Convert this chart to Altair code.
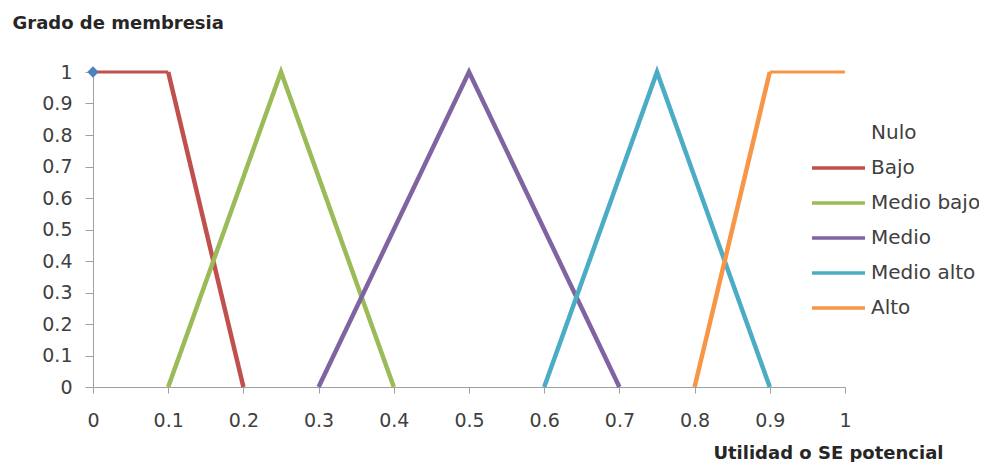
import altair as alt
import pandas as pd

series = ["Nulo", "Bajo", "Medio bajo", "Medio", "Medio alto", "Alto"]
colors = ["transparent", "#C0504D", "#9BBB59", "#8064A2", "#4BACC6", "#F79646"]

nulo_x = [0.0]
nulo_y = [1.0]
bajo_x = [0.0, 0.1, 0.2]
bajo_y = [1.0, 1.0, 0.0]
mbajo_x = [0.1, 0.25, 0.4]
mbajo_y = [0.0, 1.0, 0.0]
medio_x = [0.3, 0.5, 0.7]
medio_y = [0.0, 1.0, 0.0]
malto_x = [0.6, 0.75, 0.9]
malto_y = [0.0, 1.0, 0.0]
alto_x = [0.8, 0.9, 1.0]
alto_y = [0.0, 1.0, 1.0]

x_ticks = [0, 0.1, 0.2, 0.3, 0.4, 0.5, 0.6, 0.7, 0.8, 0.9, 1]
y_ticks = [0, 0.1, 0.2, 0.3, 0.4, 0.5, 0.6, 0.7, 0.8, 0.9, 1]

# split each series into flat / sloped segments (flat ones look thinner in the reference)
rows = []
for name, xs, ys in [("Nulo", nulo_x, nulo_y), ("Bajo", bajo_x, bajo_y),
                     ("Medio bajo", mbajo_x, mbajo_y), ("Medio", medio_x, medio_y),
                     ("Medio alto", malto_x, malto_y), ("Alto", alto_x, alto_y)]:
    if len(xs) == 1:
        rows.append({"serie": name, "x": xs[0], "y": ys[0], "seg": name + "-0", "w": 4.5, "i": 0})
        continue
    k = 0
    while k < len(xs) - 1:
        flat = ys[k] == ys[k + 1]
        j = k + 1
        while j < len(xs) - 1 and (ys[j] == ys[j + 1]) == flat:
            j += 1
        seg = f"{name}-{k}"
        for idx in range(k, j + 1):
            rows.append({"serie": name, "x": xs[idx], "y": ys[idx], "seg": seg,
                         "w": 3.0 if flat else 4.5, "i": idx})
        k = j
df = pd.DataFrame(rows)

FONT = "DejaVu Sans"

xenc = alt.X("x:Q", scale=alt.Scale(domain=[0, 1], nice=False),
             axis=alt.Axis(values=x_ticks, format="~g", title="Utilidad o SE potencial",
                           grid=False, labelPadding=18, tickSize=6, labelOverlap=False,
                           labelFlush=False,
                           titleAnchor="start", titleAlign="right", titleX=850, titleY=66,
                           titleBaseline="middle", titleFontWeight="bold"))
yenc = alt.Y("y:Q", scale=alt.Scale(domain=[0, 1], nice=False),
             axis=alt.Axis(values=y_ticks, format="~g", title="Grado de membresia",
                           grid=False, tickSize=8, labelPadding=13, labelOverlap=False,
                           labelSeparation=0, labelFlush=False, labelBound=False,
                           titleAngle=0, titleAlign="left", titleBaseline="middle",
                           titleX=-81, titleY=-49, titleFontWeight="bold"))

lines = alt.Chart(df).mark_line().encode(
    x=xenc, y=yenc,
    color=alt.Color("serie:N", scale=alt.Scale(domain=series, range=colors),
                    legend=alt.Legend(title=None, orient="none", legendX=717, legendY=51,
                                      symbolType="stroke", symbolSize=2809,
                                      symbolStrokeWidth=3.5, clipHeight=20, rowPadding=15,
                                      labelFontSize=20, labelFont=FONT,
                                      labelColor="#404040", labelOffset=4)),
    detail="seg:N",
    strokeWidth=alt.StrokeWidth("w:Q", scale=None, legend=None),
    order="i:Q",
)

point = alt.Chart(df[df.serie == "Nulo"]).mark_point(
    shape="diamond", filled=True, size=130, color="#4F81BD", opacity=1
).encode(x=xenc, y=yenc)

chart = alt.layer(lines, point).properties(
    width=752, height=315,
    autosize=alt.AutoSizeParams(type="none"),
    padding={"left": 85, "top": 64, "right": 134, "bottom": 75},
    background="white",
).configure_view(stroke=None).configure_axis(
    domainColor="#A0A0A0", tickColor="#A0A0A0", labelColor="#404040",
    titleColor="#262626", labelFont=FONT, titleFont=FONT,
    labelFontSize=19, titleFontSize=18, labelOverlap=False,
).configure_axisY(labelOverlap=False)

chart.save("out.html", embed_options={"renderer": "svg", "actions": False})
